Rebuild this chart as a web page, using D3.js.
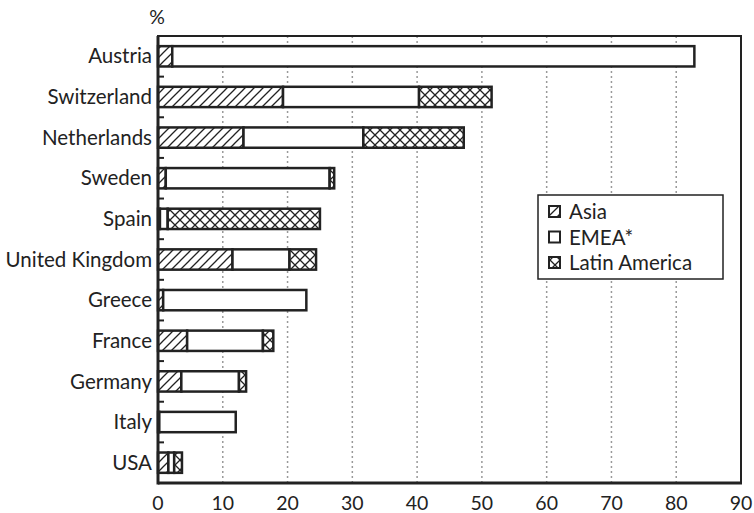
<!DOCTYPE html>
<html><head><meta charset="utf-8">
<script src="https://cdn.jsdelivr.net/npm/d3@7"></script>
<style>body{margin:0;background:#fff;} text{font-family:Lato,"Open Sans",sans-serif;fill:#222;}</style>
</head><body>
<svg id="chart" width="754" height="513"></svg>
<script>
const categories = ["Austria","Switzerland","Netherlands","Sweden","Spain","United Kingdom","Greece","France","Germany","Italy","USA"];
const asia =        [2.2, 19.3, 13.2, 1.2, 0.3, 11.5, 0.8, 4.5, 3.6, 0.2, 1.6];
const emea =        [80.6, 21.0, 18.5, 25.3, 1.2, 8.8, 22.1, 11.7, 8.9, 11.8, 0.9];
const latinAmerica =[0.0, 11.2, 15.5, 0.7, 23.5, 4.1, 0.0, 1.6, 1.1, 0.0, 1.2];
const seriesNames = ["Asia","EMEA*","Latin America"];
const xTicks = [0,10,20,30,40,50,60,70,80,90];

const svg = d3.select("#chart");
const m = {left:158, right:741, top:36, bottom:483};
const x = d3.scaleLinear().domain([0,90]).range([m.left, m.right]);
const y = d3.scaleBand().domain(categories).range([m.top, m.bottom]).paddingInner(0.5).paddingOuter(0.25);

const defs = svg.append("defs");
const hatch = defs.append("pattern").attr("id","hatch").attr("patternUnits","userSpaceOnUse").attr("width",9).attr("height",9);
hatch.append("rect").attr("width",9).attr("height",9).attr("fill","#fff");
hatch.append("path").attr("d","M-1,10 L10,-1 M-2,2 L2,-2 M7,11 L11,7").attr("stroke","#222").attr("stroke-width",1.3);
const cross = defs.append("pattern").attr("id","cross").attr("patternUnits","userSpaceOnUse").attr("width",10).attr("height",10);
cross.append("rect").attr("width",10).attr("height",10).attr("fill","#fff");
cross.append("path").attr("d","M0,0 L10,10 M10,0 L0,10").attr("stroke","#222").attr("stroke-width",1.3);

// gridlines
svg.append("g").selectAll("line").data(xTicks.filter(d=>d>0&&d<90)).join("line")
  .attr("x1",d=>x(d)).attr("x2",d=>x(d)).attr("y1",m.top).attr("y2",m.bottom)
  .attr("stroke","#999").attr("stroke-width",1.5).attr("stroke-dasharray","2,3");

const fills = ["url(#hatch)","#fff","url(#cross)"];
const rows = categories.map((c,i)=>({c, vals:[asia[i],emea[i],latinAmerica[i]]}));
const segs = [];
rows.forEach(r=>{let acc=0; r.vals.forEach((v,k)=>{ if(v>0) segs.push({c:r.c,x0:acc,x1:acc+v,k}); acc+=v;});});
svg.append("g").selectAll("rect").data(segs).join("rect")
  .attr("x",d=>x(d.x0)).attr("width",d=>x(d.x1)-x(d.x0))
  .attr("y",d=>y(d.c)).attr("height",y.bandwidth())
  .attr("fill",d=>fills[d.k]).attr("stroke","#222").attr("stroke-width",2.5);

// frame
svg.append("rect").attr("x",m.left).attr("y",m.top).attr("width",m.right-m.left).attr("height",m.bottom-m.top)
  .attr("fill","none").attr("stroke","#222").attr("stroke-width",2);
svg.append("line").attr("x1",m.left).attr("x2",m.left).attr("y1",m.top).attr("y2",m.bottom+1.5).attr("stroke","#222").attr("stroke-width",3);
svg.append("line").attr("x1",m.left).attr("x2",m.right+1).attr("y1",m.bottom).attr("y2",m.bottom).attr("stroke","#222").attr("stroke-width",3);

// y category boundary ticks
const step = y.step();
svg.append("g").selectAll("line").data(categories.slice(1)).join("line")
  .attr("x1",m.left).attr("x2",m.left+6)
  .attr("y1",d=>y(d)-step*0.25).attr("y2",d=>y(d)-step*0.25)
  .attr("stroke","#222").attr("stroke-width",2);

// y labels
svg.append("g").selectAll("text").data(categories).join("text")
  .attr("x",m.left-6).attr("y",d=>y(d)+y.bandwidth()/2).attr("dy","0.35em")
  .attr("text-anchor","end").attr("font-size",20.5).text(d=>d);

// x labels
svg.append("g").selectAll("text").data(xTicks).join("text")
  .attr("x",d=>x(d)).attr("y",m.bottom+27).attr("text-anchor","middle").attr("font-size",19.5).text(d=>d);

svg.append("text").attr("x",m.left-1).attr("y",24).attr("text-anchor","middle").attr("font-size",19.5).text("%");

// legend
const lg = svg.append("g");
lg.append("rect").attr("x",538).attr("y",195).attr("width",185).attr("height",84).attr("fill","#fff").attr("stroke","#222").attr("stroke-width",1.5);
seriesNames.forEach((n,i)=>{
  const yy = 212 + i*25.5;
  lg.append("rect").attr("x",549).attr("y",yy-6).attr("width",11).attr("height",11)
    .attr("fill",fills[i]).attr("stroke","#222").attr("stroke-width",2);
  lg.append("text").attr("x",569).attr("y",yy).attr("dy","0.35em").attr("font-size",20.5).text(n);
});
</script>
</body></html>
